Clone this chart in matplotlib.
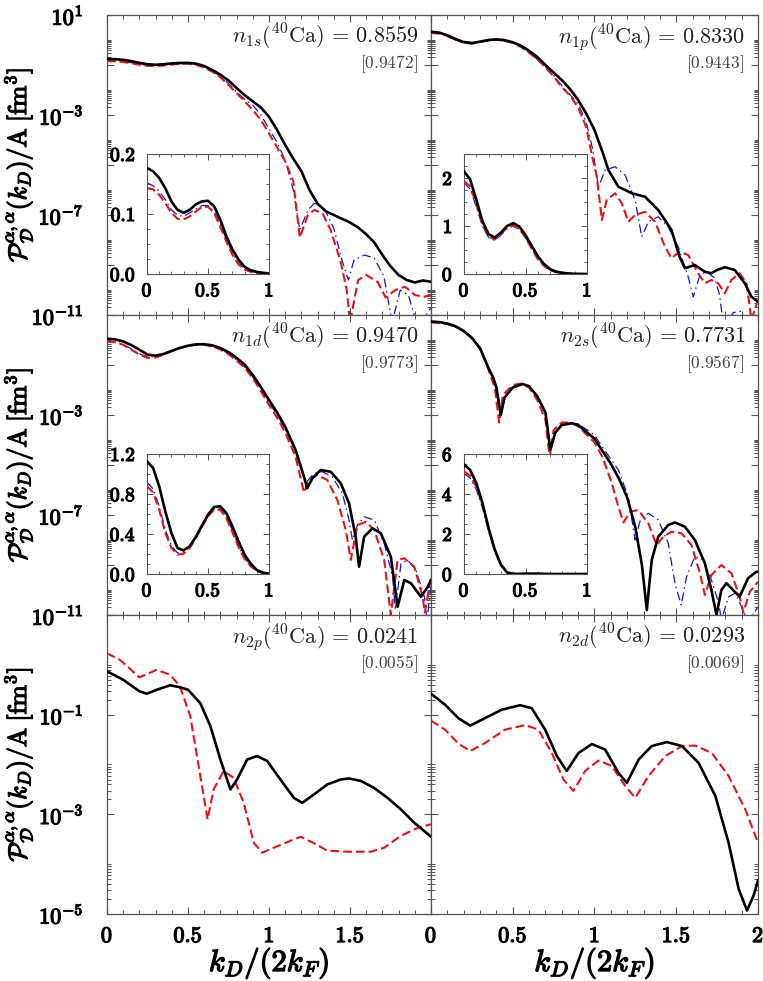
import numpy as np
import matplotlib.pyplot as plt
import matplotlib.patheffects as pe
from matplotlib.ticker import FixedLocator, FuncFormatter

plt.rcParams['mathtext.fontset'] = 'cm'
plt.rcParams['font.family'] = 'serif'
plt.rcParams['font.serif'] = ['DejaVu Serif']

# ---------------- data ----------------
x_a = [0, 0.05, 0.1, 0.15, 0.2, 0.25, 0.3, 0.35, 0.4, 0.45, 0.5, 0.55, 0.6, 0.65,
       0.7, 0.75, 0.8, 0.85, 0.9, 0.95]

# n_1s
x_1s_k = x_a + [1.0, 1.05, 1.1, 1.15, 1.2, 1.25, 1.3, 1.35, 1.4, 1.45, 1.5, 1.55, 1.6,
                1.65, 1.7, 1.75, 1.8, 1.85, 1.9, 1.95, 2.0]
p_1s_k = [0.177, 0.171, 0.160, 0.143, 0.121, 0.107, 0.102, 0.107, 0.116, 0.121, 0.122,
          0.113, 0.091, 0.063, 0.041, 0.024, 0.012, 0.0062, 0.0035, 10**-2.7,
          10**-3.07, 10**-3.6, 10**-4.2, 10**-4.75, 10**-5.25, 10**-6.0, 10**-6.55,
          10**-6.85, 10**-7.0, 10**-7.15, 10**-7.3, 10**-7.5, 10**-7.77, 10**-8.1,
          10**-8.6, 10**-9.05, 10**-9.4, 10**-9.6, 10**-9.7, 10**-9.62, 10**-9.67]
x_1s_r = x_a + [1.0, 1.05, 1.1, 1.15, 1.19, 1.24, 1.28, 1.33, 1.38, 1.44, 1.48, 1.5,
                1.55, 1.6, 1.67, 1.72, 1.78, 1.84, 1.9, 1.96, 2.0]
p_1s_r = [0.143, 0.141, 0.132, 0.118, 0.102, 0.092, 0.091, 0.096, 0.104, 0.112, 0.112,
          0.102, 0.079, 0.054, 0.032, 0.016, 0.0075, 0.0035, 10**-2.8, 10**-3.2,
          10**-3.73, 10**-4.3, 10**-4.85, 10**-5.65, 10**-7.9, 10**-7.0, 10**-6.8,
          10**-6.93, 10**-7.6, 10**-8.8, 10**-10.0, 10**-11.3, 10**-9.6, 10**-9.4,
          10**-9.67, 10**-10.3, 10**-10.0, 10**-9.87, 10**-10.2, 10**-10.27, 10**-10.2]
x_1s_b = x_a + [1.0, 1.05, 1.1, 1.15, 1.19, 1.24, 1.28, 1.34, 1.4, 1.45, 1.49, 1.525,
                1.59, 1.65, 1.71, 1.76, 1.81, 1.86, 1.92, 1.97, 2.0]
p_1s_b = [0.152, 0.147, 0.138, 0.124, 0.107, 0.098, 0.096, 0.102, 0.108, 0.114, 0.114,
          0.104, 0.084, 0.058, 0.035, 0.018, 0.0085, 0.0042, 10**-2.6, 10**-3.0,
          10**-3.55, 10**-4.1, 10**-4.8, 10**-6.0, 10**-7.6, 10**-6.8, 10**-6.53,
          10**-6.73, 10**-7.53, 10**-8.8, 10**-9.6, 10**-8.8, 10**-8.6, 10**-8.73,
          10**-9.47, 10**-11.3, 10**-10.0, 10**-10.2, 10**-11.5, 10**-11.0, 10**-10.7]

# n_1p
x_1p_k = x_a + [1.0, 1.05, 1.085, 1.146, 1.228, 1.309, 1.39, 1.471, 1.52, 1.553, 1.614,
                1.675, 1.715, 1.75, 1.797, 1.858, 1.919, 1.96, 2.0]
p_1p_k = [2.14, 1.97, 1.55, 1.10, 0.83, 0.76, 0.86, 1.0, 1.06, 0.99, 0.81, 0.59, 0.37,
          0.21, 0.10, 0.05, 0.025, 0.011, 10**-2.4, 10**-2.95, 10**-3.6, 10**-4.5,
          10**-5.2, 10**-5.87, 10**-6.13, 10**-6.27, 10**-6.8, 10**-7.6, 10**-8.67,
          10**-9.13, 10**-9.0, 10**-9.27, 10**-9.33, 10**-9.2, 10**-9.09, 10**-9.2,
          10**-9.73, 10**-10.27, 10**-10.47]
x_1p_r = x_a + [0.986, 1.014, 1.045, 1.075, 1.126, 1.167, 1.207, 1.248, 1.309, 1.37,
                1.431, 1.471, 1.52, 1.573, 1.634, 1.675, 1.715, 1.756, 1.797, 1.837,
                1.888, 1.93, 1.96, 2.0]
p_1p_r = [1.93, 1.83, 1.45, 1.03, 0.78, 0.72, 0.83, 0.97, 1.01, 0.94, 0.76, 0.53, 0.31,
          0.17, 0.08, 0.035, 0.013, 0.006, 10**-2.7, 10**-3.5, 10**-4.67, 10**-5.47,
          10**-7.2, 10**-6.4, 10**-6.13, 10**-6.53, 10**-7.27, 10**-7.0, 10**-6.87,
          10**-7.27, 10**-8.27, 10**-8.73, 10**-8.47, 10**-8.6, 10**-9.33, 10**-9.73,
          10**-9.6, 10**-9.73, 10**-10.13, 10**-9.6, 10**-9.33, 10**-9.73, 10**-11.2,
          10**-10.4]
x_1p_b = x_a + [0.99, 1.024, 1.065, 1.126, 1.187, 1.248, 1.289, 1.33, 1.39, 1.45, 1.512,
                1.573, 1.604, 1.645, 1.685, 1.736, 1.765, 1.79, 1.85, 1.9, 1.93, 2.0]
p_1p_b = [1.90, 1.77, 1.40, 1.0, 0.76, 0.70, 0.81, 0.94, 1.0, 0.93, 0.76, 0.54, 0.32,
          0.17, 0.085, 0.038, 0.015, 0.0065, 10**-2.55, 10**-3.3, 10**-4.4, 10**-5.9,
          10**-5.2, 10**-5.07, 10**-5.4, 10**-6.4, 10**-7.87, 10**-7.27, 10**-7.07,
          10**-7.47, 10**-8.27, 10**-9.47, 10**-10.27, 10**-9.4, 10**-9.27, 10**-9.53,
          10**-10.2, 10**-11.5, 10**-10.9, 10**-10.85, 10**-11.5, 10**-11.6]

# n_1d
x_1d_k = x_a + [1.0, 1.05, 1.1, 1.164, 1.216, 1.236, 1.268, 1.319, 1.381, 1.443, 1.494,
                1.535, 1.556, 1.587, 1.639, 1.69, 1.752, 1.794, 1.835, 1.876, 1.938,
                1.98, 2.0]
p_1d_k = [1.127, 1.06, 0.877, 0.627, 0.41, 0.26, 0.237, 0.277, 0.37, 0.483, 0.593,
          0.67, 0.677, 0.61, 0.477, 0.327, 0.193, 0.103, 0.04, 0.013, 10**-2.4,
          10**-2.9, 10**-3.47, 10**-4.4, 10**-5.47, 10**-5.93, 10**-5.53, 10**-5.2,
          10**-5.27, 10**-5.73, 10**-6.53, 10**-7.87, 10**-9.07, 10**-7.87, 10**-7.53,
          10**-7.73, 10**-8.67, 10**-10.67, 10**-9.6, 10**-9.73, 10**-10.27, 10**-9.87,
          10**-9.6]
x_1d_r = x_a + [1.0, 1.05, 1.1, 1.164, 1.216, 1.247, 1.298, 1.36, 1.422, 1.474, 1.505,
                1.546, 1.598, 1.65, 1.711, 1.752, 1.794, 1.835, 1.897, 1.948, 1.962,
                1.99, 2.0]
p_1d_r = [0.877, 0.817, 0.643, 0.41, 0.26, 0.193, 0.203, 0.26, 0.36, 0.47, 0.577,
          0.643, 0.643, 0.56, 0.417, 0.27, 0.15, 0.077, 0.03, 0.009, 10**-2.6,
          10**-3.1, 10**-3.7, 10**-4.67, 10**-6.1, 10**-5.6, 10**-5.4, 10**-5.6,
          10**-6.4, 10**-7.6, 10**-8.8, 10**-7.4, 10**-7.27, 10**-7.6, 10**-8.8,
          10**-11.0, 10**-8.8, 10**-8.73, 10**-9.07, 10**-10.27, 10**-10.9, 10**-9.87,
          10**-9.47]
x_1d_b = x_a + [1.0, 1.05, 1.1, 1.17, 1.226, 1.278, 1.33, 1.39, 1.453, 1.494, 1.515,
                1.546, 1.587, 1.65, 1.711, 1.763, 1.78, 1.815, 1.856, 1.907, 1.96,
                1.975, 2.0]
p_1d_b = [0.917, 0.85, 0.677, 0.443, 0.283, 0.21, 0.22, 0.27, 0.37, 0.477, 0.583,
          0.65, 0.653, 0.577, 0.437, 0.283, 0.16, 0.083, 0.033, 0.011, 10**-2.5,
          10**-3.0, 10**-3.55, 10**-4.5, 10**-5.73, 10**-5.33, 10**-5.27, 10**-5.47,
          10**-6.13, 10**-7.2, 10**-8.0, 10**-7.4, 10**-7.07, 10**-7.2, 10**-8.13,
          10**-9.47, 10**-10.8, 10**-8.93, 10**-8.8, 10**-9.2, 10**-10.3, 10**-11.2,
          10**-9.87]

# n_2s
x_2s_k = [0, 0.05, 0.1, 0.15, 0.2, 0.25, 0.3, 0.35, 0.38, 0.4, 0.427, 0.45, 0.5, 0.56,
          0.6, 0.65, 0.7, 0.73, 0.76, 0.8, 0.864, 0.9, 1.0, 1.045, 1.1, 1.15, 1.2, 1.25,
          1.29, 1.32, 1.35, 1.39, 1.451, 1.492, 1.553, 1.614, 1.675, 1.715, 1.746,
          1.776, 1.807, 1.858, 1.888, 1.939, 1.99, 2.0]
p_2s_k = [5.47, 5.2, 4.55, 3.55, 2.3, 1.22, 0.47, 0.08, 10**-1.5, 10**-1.9, 10**-3.0,
          10**-2.3, 10**-1.9, 10**-1.76, 10**-1.85, 10**-2.25, 10**-2.9, 10**-4.4,
          10**-3.7, 10**-3.4, 10**-3.33, 10**-3.4, 10**-3.95, 10**-4.4, 10**-4.95,
          10**-5.55, 10**-6.3, 10**-7.5, 10**-9.0, 10**-10.8, 10**-8.8, 10**-7.87,
          10**-7.4, 10**-7.3, 10**-7.47, 10**-8.0, 10**-8.93, 10**-10.0, 10**-11.0,
          10**-10.0, 10**-9.73, 10**-10.07, 10**-10.27, 10**-9.53, 10**-9.27, 10**-9.27]
x_2s_r = [0, 0.05, 0.1, 0.15, 0.2, 0.25, 0.3, 0.35, 0.39, 0.417, 0.44, 0.5, 0.55, 0.6,
          0.65, 0.7, 0.726, 0.75, 0.8, 0.85, 0.9, 1.0, 1.05, 1.106, 1.146, 1.177, 1.218,
          1.268, 1.329, 1.38, 1.42, 1.471, 1.532, 1.593, 1.645, 1.675, 1.715, 1.776,
          1.837, 1.888, 1.91, 1.95, 2.0]
p_2s_r = [5.13, 4.92, 4.35, 3.47, 2.25, 1.18, 0.45, 0.07, 10**-1.9, 10**-3.3, 10**-2.2,
          10**-1.8, 10**-1.74, 10**-1.9, 10**-2.4, 10**-3.2, 10**-4.7, 10**-3.6,
          10**-3.3, 10**-3.3, 10**-3.45, 10**-4.1, 10**-4.7, 10**-5.73, 10**-6.67,
          10**-7.3, 10**-6.87, 10**-6.8, 10**-7.33, 10**-8.2, 10**-7.87, 10**-7.67,
          10**-7.73, 10**-8.2, 10**-9.33, 10**-10.2, 10**-9.4, 10**-9.0, 10**-9.33,
          10**-10.27, 10**-10.9, 10**-10.07, 10**-9.67]
x_2s_b = [0, 0.05, 0.1, 0.15, 0.2, 0.25, 0.3, 0.35, 0.4, 0.427, 0.45, 0.5, 0.56, 0.6,
          0.65, 0.7, 0.73, 0.76, 0.8, 0.86, 0.9, 1.0, 1.05, 1.146, 1.207, 1.248, 1.28,
          1.329, 1.39, 1.451, 1.492, 1.53, 1.563, 1.614, 1.665, 1.715, 1.76, 1.776,
          1.82, 1.86, 1.9, 1.94, 2.0]
p_2s_b = [5.02, 4.8, 4.22, 3.3, 2.13, 1.13, 0.42, 0.07, 10**-1.95, 10**-2.9, 10**-2.3,
          10**-1.9, 10**-1.77, 10**-1.85, 10**-2.25, 10**-2.9, 10**-4.3, 10**-3.7,
          10**-3.4, 10**-3.3, 10**-3.35, 10**-3.8, 10**-4.3, 10**-5.2, 10**-6.27,
          10**-8.0, 10**-7.2, 10**-6.93, 10**-7.2, 10**-8.13, 10**-9.73, 10**-10.6,
          10**-9.47, 10**-8.67, 10**-8.8, 10**-9.6, 10**-10.53, 10**-11.2, 10**-10.27,
          10**-10.13, 10**-10.67, 10**-11.3, 10**-10.67]

# n_2p
x_2p_k = [0, 0.1, 0.2, 0.245, 0.307, 0.39, 0.45, 0.5, 0.576, 0.638, 0.7, 0.762, 0.803,
          0.865, 0.927, 0.989, 1.07, 1.154, 1.205, 1.278, 1.36, 1.443, 1.494, 1.567,
          1.649, 1.732, 1.814, 1.897, 2.0]
p_2p_k = [10**-0.13, 10**-0.3, 10**-0.53, 10**-0.58, 10**-0.5, 10**-0.41, 10**-0.45,
          10**-0.5, 10**-0.77, 10**-1.23, 10**-1.9, 10**-2.5, 10**-2.3, 10**-1.9,
          10**-1.83, 10**-1.93, 10**-2.3, 10**-2.67, 10**-2.77, 10**-2.6, 10**-2.4,
          10**-2.3, 10**-2.28, 10**-2.33, 10**-2.47, 10**-2.67, 10**-2.9, 10**-3.17,
          10**-3.45]
x_2p_r = [0, 0.08, 0.2, 0.307, 0.39, 0.45, 0.514, 0.576, 0.621, 0.658, 0.72, 0.782,
          0.844, 0.906, 0.958, 1.03, 1.133, 1.195, 1.278, 1.36, 1.484, 1.628, 1.711,
          1.814, 1.918, 2.0]
p_2p_r = [10**0.23, 10**0.1, 10**-0.25, 10**-0.1, 10**-0.2, 10**-0.43, 10**-1.03,
          10**-2.23, 10**-3.1, 10**-2.5, 10**-2.13, 10**-2.27, 10**-2.77, 10**-3.57,
          10**-3.77, 10**-3.67, 10**-3.53, 10**-3.45, 10**-3.58, 10**-3.73, 10**-3.75,
          10**-3.75, 10**-3.67, 10**-3.43, 10**-3.27, 10**-3.2]

# n_2d
x_2d_k = [0, 0.086, 0.167, 0.24, 0.33, 0.433, 0.545, 0.616, 0.698, 0.77, 0.83, 0.902,
          0.984, 1.065, 1.147, 1.198, 1.27, 1.35, 1.443, 1.535, 1.637, 1.739, 1.82,
          1.882, 1.933, 1.973, 2.0]
p_2d_k = [10**-0.58, 10**-0.8, 10**-1.07, 10**-1.22, 10**-1.07, 10**-0.9, 10**-0.81,
          10**-0.87, 10**-1.3, 10**-1.83, 10**-2.13, 10**-1.77, 10**-1.59, 10**-1.7,
          10**-2.17, 10**-2.37, 10**-1.9, 10**-1.63, 10**-1.55, 10**-1.63, 10**-1.97,
          10**-2.63, 10**-3.57, 10**-4.5, 10**-4.93, 10**-4.63, 10**-4.33]
x_2d_r = [0, 0.086, 0.167, 0.24, 0.33, 0.453, 0.576, 0.657, 0.739, 0.81, 0.871, 0.943,
          1.024, 1.106, 1.188, 1.249, 1.33, 1.433, 1.535, 1.616, 1.718, 1.82, 1.922, 2.0]
p_2d_r = [10**-1.12, 10**-1.3, 10**-1.58, 10**-1.73, 10**-1.57, 10**-1.3, 10**-1.21,
          10**-1.3, 10**-1.77, 10**-2.3, 10**-2.53, 10**-2.13, 10**-1.92, 10**-2.03,
          10**-2.43, 10**-2.67, 10**-2.23, 10**-1.83, 10**-1.63, 10**-1.62, 10**-1.77,
          10**-2.23, 10**-2.9, 10**-3.57]

labels = ['1s', '1p', '1d', '2s', '2p', '2d']
n_vals = ['0.8559', '0.8330', '0.9470', '0.7731', '0.0241', '0.0293']
n_ref = ['0.9472', '0.9443', '0.9773', '0.9567', '0.0055', '0.0069']

curves = {
    '1s': [(x_1s_k, p_1s_k), (x_1s_r, p_1s_r), (x_1s_b, p_1s_b)],
    '1p': [(x_1p_k, p_1p_k), (x_1p_r, p_1p_r), (x_1p_b, p_1p_b)],
    '1d': [(x_1d_k, p_1d_k), (x_1d_r, p_1d_r), (x_1d_b, p_1d_b)],
    '2s': [(x_2s_k, p_2s_k), (x_2s_r, p_2s_r), (x_2s_b, p_2s_b)],
    '2p': [(x_2p_k, p_2p_k), (x_2p_r, p_2p_r)],
    '2d': [(x_2d_k, p_2d_k), (x_2d_r, p_2d_r)],
}

inset_ylim = {'1s': (0, 0.2), '1p': (0, 2.5), '1d': (0, 1.2), '2s': (0, 6)}
inset_yticks = {'1s': ([0, 0.1, 0.2], 0.025, '%.1f'), '1p': ([0, 1, 2], 0.25, '%d'),
                '1d': ([0, 0.4, 0.8, 1.2], 0.1, '%.1f'), '2s': ([0, 2, 4, 6], 0.5, '%d')}

# ---------------- styling ----------------
styles = [dict(color='black', lw=1.9, ls='-', zorder=4),
          dict(color='#ee1111', lw=1.5, ls=(0, (4.2, 1.9)), zorder=3),
          dict(color='#1515ee', lw=0.9, ls=(0, (7, 3, 1.2, 3)), zorder=2)]
spine_c = '#555555'

W, H = 763, 981
fig = plt.figure(figsize=(W / 100, H / 100), dpi=100)


def px_axes(x0, y0, x1, y1):
    return fig.add_axes([x0 / W, 1 - y1 / H, (x1 - x0) / W, (y1 - y0) / H])


def bold_num(fmt):
    return FuncFormatter(lambda v, p: r'$\mathbf{%s}$' % (fmt % v))


def exp_fmt(show):
    def f(v, p):
        e = int(round(np.log10(v)))
        return r'$\mathbf{10^{%d}}$' % e if e in show else ''
    return FuncFormatter(f)


def frame(ax, lw=0.9):
    for s in ax.spines.values():
        s.set_color(spine_c)
        s.set_linewidth(lw)
    ax.tick_params(which='both', direction='in', top=True, right=True, color=spine_c)


rows = [(15, 315), (315, 615), (615, 914)]
cols = [(107, 431), (431, 758)]
insets = {'1s': (147, 154, 269, 274), '1p': (464, 154, 587, 274),
          '1d': (147, 454, 269, 574), '2s': (464, 454, 587, 574)}
all_axes = []

for i, name in enumerate(labels):
    r, c = divmod(i, 2)
    ax = px_axes(cols[c][0], rows[r][0], cols[c][1], rows[r][1])
    all_axes.append(ax)
    frame(ax)
    for (xs, ps), st in zip(curves[name], styles):
        ax.plot(xs, ps, **st)
    ax.set_yscale('log')
    ax.set_xlim(0, 2)
    if r < 2:
        ax.set_ylim(1e-11, 1e1)
        exps = [1, -1, -3, -5, -7, -9, -11]
        show = [1, -3, -7, -11] if r == 0 else [-3, -7, -11]
    else:
        ax.set_ylim(1e-5, 1e1)
        exps = [1, -1, -3, -5]
        show = [-1, -3, -5]
    ax.yaxis.set_major_locator(FixedLocator([10.0 ** e for e in exps]))
    ax.yaxis.set_minor_locator(FixedLocator(
        [k * 10.0 ** e for e in exps[1:] for k in range(2, 11)]))
    if c == 0:
        ax.yaxis.set_major_formatter(exp_fmt(show))
    else:
        ax.set_yticklabels([])
    ax.yaxis.set_minor_formatter(FuncFormatter(lambda v, p: ''))
    ax.xaxis.set_major_locator(FixedLocator([0, 0.5, 1, 1.5, 2]))
    ax.xaxis.set_minor_locator(FixedLocator(np.arange(0, 2.01, 0.1)))
    if r == 2:
        xl = ['0', '0.5', '1', '1.5', '' if c == 0 else '2']
        ax.set_xticklabels([r'$\mathbf{%s}$' % s if s else '' for s in xl])
        xlab = ax.set_xlabel(r'$k_D/(2k_F)$', fontsize=22, labelpad=-1)
        xlab.set_path_effects([pe.withStroke(linewidth=1.0, foreground='black')])
    else:
        ax.set_xticklabels([])
    ax.tick_params(which='major', length=5, width=0.8, labelsize=16)
    ax.tick_params(axis='y', which='major', pad=17)
    ax.tick_params(axis='x', which='major', pad=8)
    ax.tick_params(which='minor', length=2.8, width=0.7)
    if c == 0:
        ylab = ax.set_ylabel(r'$\mathcal{P}^{\alpha,\alpha}_{\mathcal{D}}(k_D)'
                             r'/\mathrm{A}\;[\mathrm{fm}^3]$', fontsize=18.5)
        ylab.set_path_effects([pe.withStroke(linewidth=0.9, foreground='black')])
        ax.yaxis.set_label_coords(-0.222, 0.5)
    ax.text(0.962, 0.978, r'$n_{%s}(^{40}\mathrm{Ca})\,=\,%s$' % (name, n_vals[i]),
            transform=ax.transAxes, ha='right', va='top', fontsize=16, color='#222222')
    ax.text(0.958, 0.872, r'$[%s]$' % n_ref[i], transform=ax.transAxes,
            ha='right', va='top', fontsize=12.5, color='#444444')

    if name in insets:
        ia = px_axes(*insets[name])
        all_axes.append(ia)
        frame(ia, 0.8)
        for (xs, ps), st in zip(curves[name], styles):
            ia.plot(xs, ps, **st)
        ia.set_xlim(0, 1)
        ia.set_ylim(*inset_ylim[name])
        ticks, minor, fmt = inset_yticks[name]
        ia.yaxis.set_major_locator(FixedLocator(ticks))
        ia.yaxis.set_minor_locator(FixedLocator(
            np.arange(0, inset_ylim[name][1] + 1e-9, minor)))
        ia.yaxis.set_major_formatter(bold_num(fmt))
        ia.xaxis.set_major_locator(FixedLocator([0, 0.5, 1]))
        ia.xaxis.set_minor_locator(FixedLocator(np.arange(0, 1.01, 0.1)))
        ia.xaxis.set_major_formatter(FuncFormatter(
            lambda v, p: r'$\mathbf{%s}$' % ('%g' % v)))
        ia.tick_params(which='major', length=4, width=0.7, labelsize=14)
        ia.tick_params(axis='y', which='major', pad=8)
        ia.tick_params(axis='x', which='major', pad=6)
        ia.tick_params(which='minor', length=2.2, width=0.6)

# thicken the tick labels so they read as bold
fig.canvas.draw()
for a in all_axes:
    for lab in a.get_xticklabels() + a.get_yticklabels():
        lab.set_path_effects([pe.withStroke(linewidth=0.9, foreground='black')])

fig.savefig('out.png', dpi=100)
